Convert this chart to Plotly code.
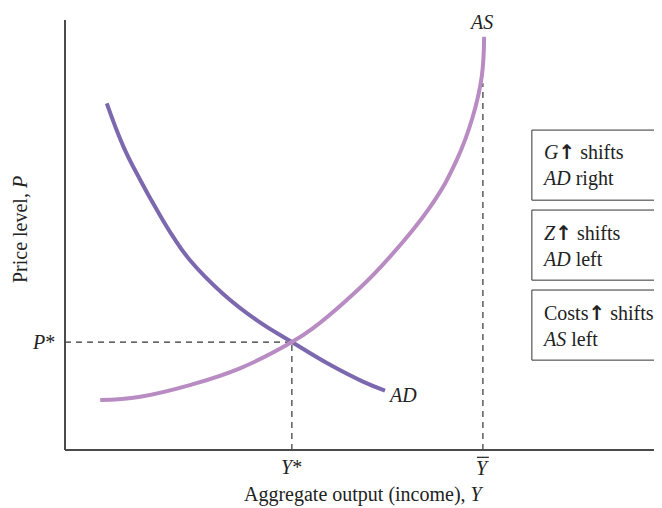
import plotly.graph_objects as go

# Curves (output on x, price level on y, 0-100 scale)
ad_output = [7.0, 9.8, 12.6, 15.4, 18.1, 20.9, 26.5, 32.1, 38.0, 44.4, 49.9, 53.6]
ad_price = [80.6, 70.5, 62.8, 55.8, 49.6, 44.2, 36.3, 30.2, 25.1, 19.8, 15.9, 13.8]

as_output = [5.9, 12.6, 20.9, 29.3, 38.0, 41.5, 47.2, 52.9, 61.2, 65.6, 68.3, 69.8, 70.2]
as_price = [11.6, 12.4, 15.1, 19.0, 25.1, 28.3, 34.9, 42.6, 56.6, 67.4, 77.5, 86.8, 96.1]

eq_output = 38.0    # Y*
eq_price = 25.1     # P*
full_output = 70.0  # Y-bar
full_top = 85.3

boxes_top = [74.4, 55.8, 37.2]
boxes_bottom = [58.1, 39.5, 20.9]
ARROW = "<span style=\"font-family:'DejaVu Sans';font-weight:bold\">↑</span>"
box_lines = [
    ["<i>G</i>" + ARROW + " shifts", "<i>AD</i> right"],
    ["<i>Z</i>" + ARROW + " shifts", "<i>AD</i> left"],
    ["Costs" + ARROW + " shifts", "<i>AS</i> left"],
]

AD_COLOR = "#7c68ae"
AS_COLOR = "#b98bc3"
AXIS_COLOR = "#4a4a4a"
FONT = "Liberation Serif"
TEXT = "#222222"

fig = go.Figure()

fig.add_trace(go.Scatter(x=ad_output, y=ad_price, mode="lines",
                         line=dict(color=AD_COLOR, width=4, shape="spline", smoothing=1.2),
                         hoverinfo="skip"))
fig.add_trace(go.Scatter(x=as_output, y=as_price, mode="lines",
                         line=dict(color=AS_COLOR, width=4, shape="spline", smoothing=1.2),
                         hoverinfo="skip"))

dash = dict(color="#333333", width=1.2, dash="6px,5px")
fig.add_shape(type="line", x0=0, x1=eq_output, y0=eq_price, y1=eq_price, line=dash, layer="below")
fig.add_shape(type="line", x0=eq_output, x1=eq_output, y0=0, y1=eq_price, line=dash, layer="below")
fig.add_shape(type="line", x0=full_output, x1=full_output, y0=0, y1=full_top, line=dash, layer="below")

# axes
fig.add_shape(type="line", x0=0, x1=0, y0=0, y1=100, line=dict(color=AXIS_COLOR, width=2))
fig.add_shape(type="line", x0=0, x1=100, y0=0, y1=0, line=dict(color=AXIS_COLOR, width=2))

# text boxes
for top, bottom, lines in zip(boxes_top, boxes_bottom, box_lines):
    fig.add_shape(type="rect", x0=78.2, x1=103, y0=bottom, y1=top,
                  line=dict(color="#333333", width=1), fillcolor="white")
    fig.add_annotation(x=79.6, y=(top + bottom) / 2, text="<br>".join(lines),
                       xanchor="left", yanchor="middle", align="left", showarrow=False,
                       font=dict(family=FONT, size=20, color=TEXT))


def label(x, y, text, xanchor="center", yanchor="middle", size=20):
    fig.add_annotation(x=x, y=y, text=text, showarrow=False, xanchor=xanchor,
                       yanchor=yanchor, font=dict(family=FONT, size=size, color=TEXT))


label(69.7, 99.6, "<i>AS</i>")
label(56.5, 12.8, "<i>AD</i>")
label(-1.3, eq_price, "<i>P</i>*", xanchor="right")
label(eq_output, -4.0, "<i>Y</i>*")
label(full_output, -4.2, "<i>Y</i>")
fig.add_shape(type="line", x0=full_output - 1.0, x1=full_output + 1.0, y0=-1.7, y1=-1.7,
              line=dict(color=TEXT, width=1.2))

label(50, -10.3, "Aggregate output (income), <i>Y</i>")
fig.add_annotation(x=-7.5, y=51.2, text="Price level, <i>P</i>", showarrow=False, textangle=-90,
                   font=dict(family=FONT, size=20, color=TEXT))

# the page shows the figure 8px in from the top-left corner, so the ranges
# are set to put the axis origin where it sits in the reference
fig.update_layout(
    width=662, height=508,
    margin=dict(l=0, r=0, t=0, b=0),
    paper_bgcolor="white", plot_bgcolor="white",
    showlegend=False,
    xaxis=dict(range=[-9.55, 101.34], visible=False, fixedrange=True),
    yaxis=dict(range=[-15.35, 102.79], visible=False, fixedrange=True),
)

fig.write_html("out.html")
